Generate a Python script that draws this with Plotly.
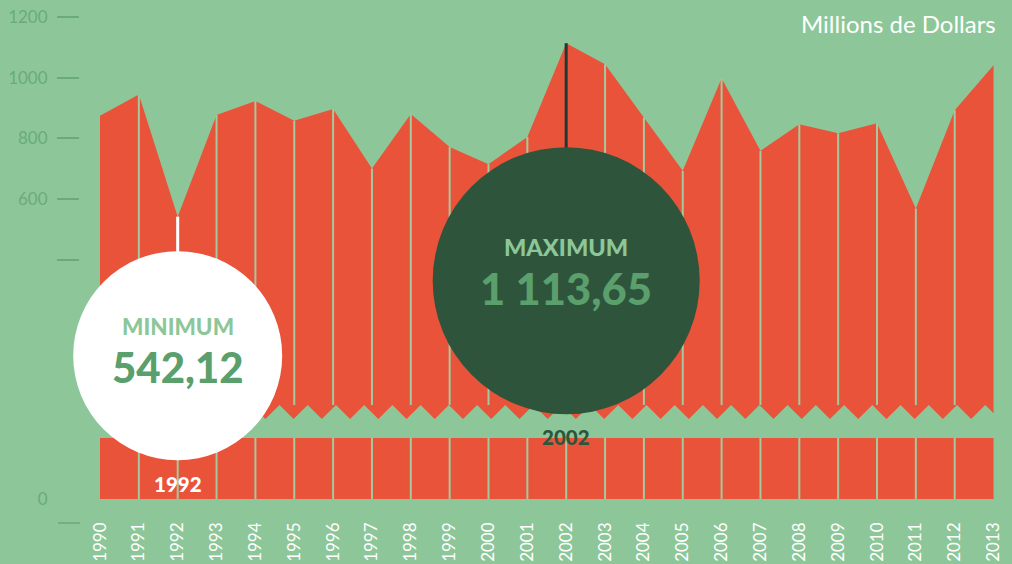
import numpy as np
import plotly.graph_objects as go

# Annual amounts, millions of dollars
years = list(range(1990, 2014))
values = [875, 945, 542.12, 877, 923, 858, 897, 701, 880, 772, 715, 805,
          1113.65, 1044, 869, 693, 998, 759, 847, 817, 850, 569, 893, 1041]

y_tickvals = [400, 600, 800, 1000, 1200]
y_ticktext = ["", "600", "800", "1000", "1200"]

BG = "#8DC799"
RED = "#E9533A"
DARK = "#2E553C"
LABEL_GREEN = "#6AAB78"
VALUE_GREEN = "#5A9F6C"
SEP = "#A3C9A0"

# geometry of the plotting area (pixels)
W, H = 1012, 564
M_L, M_R, M_T, M_B = 80, 0, 0, 65
plot_w = W - M_L - M_R
plot_h = H - M_T - M_B
px_per_year = 38.85
px_per_unit = 0.3035
x_range = [1990 - 20 / px_per_year, 1990 - 20 / px_per_year + plot_w / px_per_year]

# upper (broken) axis: top of plot = 1256, bottom of its domain 419 px down
upper_top = 1256.0
upper_h = 419
upper_range = [upper_top - upper_h / px_per_unit, upper_top]
upper_dom = [(plot_h - upper_h) / plot_h, 1]
# lower axis: 61 px tall block at the base
lower_h = 61
lower_range = [0, lower_h / px_per_unit]


def upper_val(px_from_top):
    return upper_top - px_from_top / px_per_unit


def x_paper(x):
    return (x - x_range[0]) / (x_range[1] - x_range[0])


def y_paper(v):
    f = (v - upper_range[0]) / (upper_range[1] - upper_range[0])
    return upper_dom[0] + f * (upper_dom[1] - upper_dom[0])


# zigzag edge of the break
zig_high = upper_val(405)
zig_low = upper_val(419)
half = (28.23 / px_per_year) / 2
zx = np.arange(1990 - 4 / px_per_year, 2013 + 2 * half, half)
zy = np.where(np.arange(len(zx)) % 2 == 0, zig_low, zig_high)
inner = [v for v in zx if 1990 < v < 2013]
zgrid = np.array([1990] + inner + [2013])
zvals = np.interp(zgrid, zx, zy)

fig = go.Figure()

# break edge (fill base for the upper area)
fig.add_trace(go.Scatter(x=zgrid, y=zvals, mode="lines", line=dict(width=0),
                         hoverinfo="skip", showlegend=False, yaxis="y"))
# upper area
fig.add_trace(go.Scatter(x=years, y=values, mode="lines", line=dict(width=0, color=RED),
                         fill="tonexty", fillcolor=RED, showlegend=False, yaxis="y"))
# lower block
fig.add_trace(go.Scatter(x=years, y=values, mode="lines", line=dict(width=0, color=RED),
                         fill="tozeroy", fillcolor=RED, showlegend=False, yaxis="y2"))

# year separators
sx, sy, lx, ly = [], [], [], []
for yr, v in zip(years[1:-1], values[1:-1]):
    sx += [yr, yr, None]
    sy += [v, zig_high, None]
    lx += [yr, yr, None]
    ly += [0, v, None]
fig.add_trace(go.Scatter(x=sx, y=sy, mode="lines", line=dict(width=2, color=SEP),
                         hoverinfo="skip", showlegend=False, yaxis="y"))
fig.add_trace(go.Scatter(x=lx, y=ly, mode="lines", line=dict(width=2, color=SEP),
                         hoverinfo="skip", showlegend=False, yaxis="y2"))

i_min = int(np.argmin(values))
i_max = int(np.argmax(values))
y_min, v_min = years[i_min], values[i_min]
y_max, v_max = years[i_max], values[i_max]


def fr(v):
    return f"{v:,.2f}".replace(",", " ").replace(".", ",")


def bubble_shapes(year, val, stem_len, radius, stem_color, fill):
    xa, ya = x_paper(year), y_paper(val)
    return [
        dict(type="line", xref="paper", yref="paper", xsizemode="pixel", ysizemode="pixel",
             xanchor=xa, yanchor=ya, x0=0, x1=0, y0=0, y1=-(stem_len + 2),
             line=dict(color=stem_color, width=3), layer="above"),
        dict(type="circle", xref="paper", yref="paper", xsizemode="pixel", ysizemode="pixel",
             xanchor=xa, yanchor=ya, x0=-radius, x1=radius,
             y0=-(stem_len + 2 * radius), y1=-stem_len,
             fillcolor=fill, line=dict(width=0), layer="above"),
    ]


shapes = (bubble_shapes(y_min, v_min, 34.5, 104.5, "white", "white")
          + bubble_shapes(y_max, v_max, 104, 133.5, "#1C3A33", DARK))
# lone tick under the zero label
shapes.append(dict(type="line", xref="paper", yref="paper",
                   x0=-22 / plot_w, x1=0, y0=-24 / plot_h, y1=-24 / plot_h,
                   line=dict(color=LABEL_GREEN, width=1.5), layer="above"))

BOLD = dict(family="Lato, 'Open Sans', sans-serif", weight=900)
annotations = [
    dict(x=y_min, y=v_min, xref="x", yref="y", yshift=-110, text="MINIMUM",
         showarrow=False, font=dict(size=22.5, color=BG, **BOLD)),
    dict(x=y_min, y=v_min, xref="x", yref="y", yshift=-150, text=fr(v_min),
         showarrow=False, font=dict(size=42, color=VALUE_GREEN, **BOLD)),
    dict(x=y_min, y=0, xref="x", yref="y2", yshift=15, text=str(y_min),
         showarrow=False, font=dict(size=20.5, color="white", **BOLD)),
    dict(x=y_max, y=v_max, xref="x", yref="y", yshift=-204, text="MAXIMUM",
         showarrow=False, font=dict(size=23.5, color=BG, **BOLD)),
    dict(x=y_max, y=v_max, xref="x", yref="y", yshift=-245, text=fr(v_max),
         showarrow=False, font=dict(size=43.5, color=VALUE_GREEN, **BOLD)),
    dict(x=y_max, y=0, xref="x", yref="y2", yshift=62, text=str(y_max),
         showarrow=False, font=dict(size=20.5, color=DARK, **BOLD)),
    dict(x=1, y=1, xref="paper", yref="paper", xanchor="right", yanchor="top",
         xshift=-14, yshift=-7, text="Millions de Dollars", showarrow=False,
         font=dict(size=24, color="white", family="Lato, sans-serif", weight=400)),
]

REG = dict(family="Lato, 'Open Sans', sans-serif", weight=400)
fig.update_layout(
    width=W, height=H,
    margin=dict(l=M_L, r=M_R, t=M_T, b=M_B),
    paper_bgcolor=BG, plot_bgcolor=BG,
    showlegend=False,
    xaxis=dict(range=x_range, tickvals=years, ticktext=[str(y) for y in years],
               tickangle=-90, tickfont=dict(size=17, color="white", **REG),
               showgrid=False, zeroline=False, showline=False, ticks="",
               anchor="y2", ticklabelstandoff=19),
    yaxis=dict(domain=upper_dom, range=upper_range,
               tickvals=y_tickvals, ticktext=y_ticktext,
               ticks="outside", ticklen=22, tickwidth=1.5, tickcolor=LABEL_GREEN,
               tickfont=dict(size=17, color=LABEL_GREEN, **REG),
               showgrid=False, zeroline=False, showline=False, ticklabelstandoff=6),
    yaxis2=dict(domain=[0, lower_h / plot_h], range=lower_range,
                tickvals=[0], ticktext=["0"],
                ticks="outside", ticklen=22, tickcolor="rgba(0,0,0,0)",
                tickfont=dict(size=17, color=LABEL_GREEN, **REG),
                showgrid=False, zeroline=False, showline=False, ticklabelstandoff=6),
    shapes=shapes,
    annotations=annotations,
)

fig.write_html("out.html")
